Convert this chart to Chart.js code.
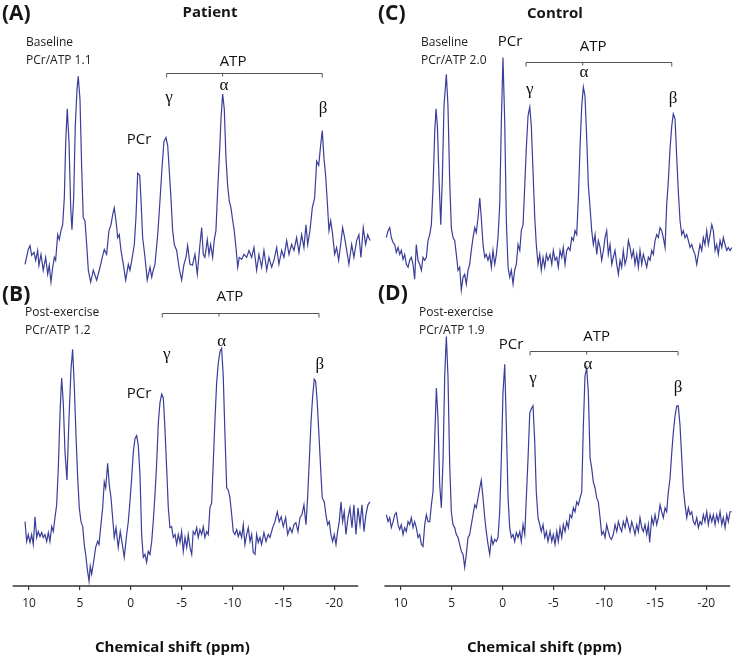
<!DOCTYPE html>
<html lang="en">
<head>
<meta charset="UTF-8">
<title>31P spectra – patient vs control</title>
<script src="https://cdn.jsdelivr.net/npm/chart.js"></script>
<style>
  body { margin: 0; background: #fff; font-family: 'Open Sans', sans-serif; }
  .figure { position: relative; width: 733px; height: 660px; overflow: hidden; }
  .box { position: absolute; top: 0; height: 660px; }
  #leftBox { left: 0; width: 373px; }
  #rightBox { left: 378px; width: 355px; }
  .txt { position: absolute; white-space: nowrap; color: #161616; }
  .panel { font-weight: 700; font-size: 21px; line-height: 24px; }
  .group { font-weight: 700; font-size: 15px; line-height: 18px; transform: translateX(-50%); }
  .cond { font-size: 12px; line-height: 18px; color: #222; }
</style>
</head>
<body>
<div class="figure">
  <div class="box" id="leftBox"><canvas id="leftChart"></canvas></div>
  <div class="box" id="rightBox"><canvas id="rightChart"></canvas></div>

  <div class="txt panel" style="left:2px; top:0px;">(A)</div>
  <div class="txt group" style="left:210px; top:2px;">Patient</div>
  <div class="txt cond" style="left:26px; top:33px;">Baseline</div>
  <div class="txt cond" style="left:26px; top:51px;">PCr/ATP 1.1</div>

  <div class="txt panel" style="left:2px; top:281px;">(B)</div>
  <div class="txt cond" style="left:25px; top:303px;">Post-exercise</div>
  <div class="txt cond" style="left:25px; top:321px;">PCr/ATP 1.2</div>

  <div class="txt panel" style="left:378px; top:0px;">(C)</div>
  <div class="txt group" style="left:555px; top:3px;">Control</div>
  <div class="txt cond" style="left:421px; top:33px;">Baseline</div>
  <div class="txt cond" style="left:421px; top:51px;">PCr/ATP 2.0</div>

  <div class="txt panel" style="left:378px; top:280px;">(D)</div>
  <div class="txt cond" style="left:419px; top:303px;">Post-exercise</div>
  <div class="txt cond" style="left:419px; top:321px;">PCr/ATP 1.9</div>
</div>

<script>
// chemical shift axis
const tickValues = [10, 5, 0, -5, -10, -15, -20];
const axisSpan = [11.6, -22.35];
const axisTitle = 'Chemical shift (ppm)';
const axisTitlePpm = -4.1;

// (A) patient, baseline
const shiftA = [10.39,10.07,9.90,9.74,9.51,9.34,9.15,9.02,8.82,8.60,
  8.36,8.16,8.01,7.84,7.67,7.51,7.38,7.18,7.02,6.86,
  6.69,6.53,6.39,6.24,6.07,5.90,5.78,5.61,5.45,5.28,
  5.16,4.99,4.82,4.67,4.50,4.33,4.17,3.94,3.68,3.35,
  3.02,2.80,2.60,2.37,2.14,1.94,1.78,1.62,1.45,1.28,
  1.13,0.96,0.73,0.50,0.24,0.08,-0.15,-0.35,-0.51,-0.68,
  -0.88,-1.00,-1.17,-1.40,-1.62,-1.89,-2.06,-2.21,-2.38,-2.65,
  -2.87,-3.07,-3.26,-3.46,-3.63,-3.79,-3.95,-4.12,-4.28,-4.51,
  -4.74,-5.00,-5.23,-5.43,-5.59,-5.82,-6.06,-6.31,-6.54,-6.80,
  -6.97,-7.13,-7.29,-7.52,-7.69,-7.85,-8.05,-8.21,-8.37,-8.54,
  -8.70,-8.87,-9.03,-9.19,-9.36,-9.52,-9.68,-9.85,-10.02,-10.17,
  -10.34,-10.51,-10.66,-10.90,-11.13,-11.39,-11.62,-11.88,-12.11,-12.37,
  -12.60,-12.86,-13.09,-13.36,-13.58,-13.85,-14.07,-14.34,-14.56,-14.83,
  -15.06,-15.32,-15.55,-15.81,-16.04,-16.30,-16.53,-16.79,-17.02,-17.22,
  -17.39,-17.61,-17.84,-18.07,-18.27,-18.47,-18.66,-18.82,-18.99,-19.15,
  -19.31,-19.48,-19.65,-19.84,-20.04,-20.23,-20.43,-20.63,-20.82,-21.02,
  -21.22,-21.44,-21.71,-21.93,-22.20,-22.42,-22.62,-22.85,-23.08,-23.28,
  -23.51];
const ampA = [3,18,22,12,15,7,17,2,13,-3,
  10,-7,2,-15,0,10,7,33,28,37,
  43,70,127,160,127,60,38,70,143,180,
  193,170,100,50,47,23,-3,-15,-3,-13,
  0,10,18,13,37,43,53,60,47,30,
  33,17,3,-13,3,-3,10,23,50,95,
  93,70,30,10,-13,0,-10,-3,3,33,
  67,100,127,131,123,97,70,37,23,17,
  0,-13,3,10,22,3,2,13,-7,23,
  40,13,10,28,13,23,10,28,37,77,
  110,150,175,160,110,83,67,60,47,37,
  20,0,10,8,13,10,17,10,20,-3,
  13,0,17,-3,10,0,7,20,3,17,
  10,27,13,23,17,30,15,33,20,43,
  23,37,60,70,107,103,123,138,110,93,
  67,37,47,33,13,20,7,23,40,30,
  17,3,23,10,27,33,10,40,23,33,
  27];

// (B) patient, post-exercise
const shiftB = [10.39,10.23,10.07,9.90,9.74,9.58,9.41,9.24,9.09,8.92,
  8.75,8.60,8.43,8.26,8.10,7.94,7.77,7.61,7.45,7.28,
  7.12,6.95,6.79,6.63,6.46,6.27,6.07,5.87,5.71,5.55,
  5.38,5.21,5.06,4.89,4.72,4.57,4.43,4.27,4.10,3.98,
  3.84,3.64,3.45,3.25,3.12,2.93,2.76,2.60,2.46,2.27,
  2.11,1.94,1.78,1.62,1.45,1.23,1.03,0.83,0.64,0.40,
  0.24,0.08,-0.09,-0.25,-0.42,-0.58,-0.74,-0.91,-1.07,-1.23,
  -1.40,-1.56,-1.72,-1.89,-2.06,-2.21,-2.38,-2.55,-2.71,-2.87,
  -3.04,-3.20,-3.36,-3.53,-3.69,-3.85,-4.02,-4.18,-4.35,-4.51,
  -4.67,-4.84,-5.00,-5.16,-5.33,-5.50,-5.65,-5.82,-5.99,-6.14,
  -6.31,-6.48,-6.63,-6.80,-6.97,-7.13,-7.29,-7.46,-7.62,-7.78,
  -7.95,-8.11,-8.28,-8.44,-8.60,-8.77,-8.93,-9.09,-9.26,-9.43,
  -9.58,-9.75,-9.92,-10.07,-10.24,-10.41,-10.57,-10.73,-10.90,-11.06,
  -11.22,-11.39,-11.55,-11.72,-11.88,-12.04,-12.21,-12.37,-12.53,-12.70,
  -12.86,-13.09,-13.29,-13.51,-13.68,-13.95,-14.17,-14.40,-14.59,-14.79,
  -14.99,-15.22,-15.42,-15.65,-15.84,-16.04,-16.23,-16.43,-16.63,-16.82,
  -17.02,-17.22,-17.38,-17.54,-17.71,-17.88,-18.03,-18.17,-18.33,-18.50,
  -18.66,-18.82,-19.02,-19.18,-19.35,-19.51,-19.67,-19.84,-20.00,-20.17,
  -20.33,-20.49,-20.66,-20.82,-20.98,-21.15,-21.35,-21.54,-21.74,-21.93,
  -22.13,-22.33,-22.53,-22.72,-22.92,-23.11,-23.31,-23.51];
const ampB = [18,-2,5,-3,5,-5,23,2,8,3,
  7,2,5,-2,7,-2,13,8,22,35,
  72,128,163,138,88,60,122,172,192,155,
  105,62,32,18,13,-5,-15,-30,-42,-27,
  -35,-22,-8,-2,-5,15,32,58,52,77,
  55,42,22,2,12,-8,8,-5,-18,5,
  18,38,62,88,102,105,95,65,5,-18,
  -15,-23,-12,-15,-2,18,45,78,118,138,
  147,143,112,72,32,12,13,2,5,-5,
  5,-3,8,-12,2,-8,5,-8,-15,8,
  5,12,2,10,5,13,2,8,5,32,
  37,78,122,158,178,190,193,165,105,52,
  50,42,25,8,5,10,3,8,2,15,
  -5,5,12,-2,5,-13,-15,5,-3,2,
  -5,7,-2,5,2,12,18,28,18,23,
  13,22,5,12,7,15,17,8,22,25,
  35,15,42,78,118,145,162,160,138,105,
  72,42,38,25,15,18,5,-2,5,-5,
  8,18,38,18,28,5,22,32,12,35,
  5,32,15,35,8,25,35,38];

// (C) control, baseline
const shiftC = [11.41,11.24,11.08,10.92,10.75,10.59,10.43,10.26,10.10,9.94,
  9.77,9.61,9.45,9.28,9.12,8.96,8.79,8.63,8.47,8.30,
  8.14,7.97,7.81,7.64,7.48,7.32,7.15,6.99,6.83,6.66,
  6.53,6.40,6.24,6.07,5.92,5.75,5.52,5.36,5.19,5.03,
  4.87,4.70,4.54,4.37,4.21,4.05,3.88,3.72,3.56,3.39,
  3.23,3.07,2.90,2.73,2.58,2.41,2.24,2.09,1.92,1.75,
  1.60,1.43,1.26,1.10,0.94,0.77,0.61,0.45,0.28,0.12,
  -0.04,-0.21,-0.37,-0.54,-0.70,-0.86,-1.03,-1.19,-1.35,-1.52,
  -1.69,-1.84,-2.01,-2.18,-2.33,-2.50,-2.67,-2.82,-2.99,-3.16,
  -3.31,-3.48,-3.65,-3.80,-3.97,-4.14,-4.30,-4.46,-4.66,-4.83,
  -4.98,-5.15,-5.32,-5.47,-5.64,-5.81,-5.96,-6.13,-6.30,-6.46,
  -6.62,-6.79,-6.95,-7.11,-7.28,-7.44,-7.61,-7.77,-7.93,-8.09,
  -8.26,-8.42,-8.59,-8.75,-8.91,-9.08,-9.24,-9.40,-9.57,-9.73,
  -9.90,-10.06,-10.22,-10.38,-10.55,-10.72,-10.87,-11.04,-11.21,-11.37,
  -11.53,-11.69,-11.85,-12.02,-12.19,-12.35,-12.51,-12.68,-12.84,-13.00,
  -13.17,-13.33,-13.49,-13.66,-13.82,-13.98,-14.15,-14.31,-14.48,-14.64,
  -14.80,-14.97,-15.13,-15.29,-15.46,-15.62,-15.78,-15.95,-16.11,-16.27,
  -16.44,-16.61,-16.76,-16.93,-17.10,-17.25,-17.42,-17.59,-17.74,-17.91,
  -18.08,-18.24,-18.40,-18.57,-18.73,-18.89,-19.06,-19.22,-19.38,-19.55,
  -19.71,-19.87,-20.04,-20.20,-20.37,-20.54,-20.69,-20.86,-21.02,-21.18,
  -21.35,-21.52,-21.67,-21.84,-22.01,-22.16,-22.33,-22.50];
const ampC = [20,27,30,20,15,13,5,10,3,7,
  -2,3,-7,-10,-3,0,-7,-22,13,-3,
  -7,-13,0,-3,0,17,23,33,70,127,
  150,133,80,33,77,153,185,153,77,30,
  20,17,3,-13,-10,-33,-20,-17,-27,-13,
  -7,7,20,30,25,40,60,40,13,0,
  3,-3,3,-10,7,-7,3,20,53,137,
  202,137,37,-10,-20,-13,-27,-13,-7,13,
  7,27,33,73,110,143,152,133,87,40,
  13,-7,3,-13,0,-10,3,-3,3,-7,
  7,-3,0,-10,7,0,10,-7,7,10,
  7,20,17,27,23,60,113,153,172,163,
  120,73,50,27,13,23,3,17,10,-3,
  7,20,27,3,13,-7,0,7,-7,-17,
  -3,-10,7,-7,0,17,10,0,7,-7,
  3,-10,7,-7,3,-3,-10,0,-3,7,
  3,17,23,20,30,27,20,10,53,77,
  110,133,145,140,100,67,37,23,27,20,
  23,17,10,13,7,3,-7,3,13,7,
  20,13,27,13,23,33,27,7,13,3,
  17,10,20,13,7,10,7,10];

// (D) control, post-exercise
const shiftD = [11.41,11.24,11.08,10.92,10.75,10.59,10.43,10.26,10.10,9.94,
  9.77,9.61,9.45,9.28,9.12,8.96,8.79,8.63,8.47,8.30,
  8.14,7.97,7.81,7.64,7.48,7.32,7.15,6.99,6.83,6.66,
  6.50,6.34,6.17,6.01,5.84,5.68,5.52,5.36,5.19,5.03,
  4.87,4.70,4.54,4.37,4.21,4.05,3.88,3.72,3.56,3.39,
  3.23,3.07,2.90,2.73,2.58,2.41,2.24,2.09,1.92,1.75,
  1.60,1.43,1.26,1.10,0.94,0.77,0.61,0.45,0.28,0.12,
  -0.04,-0.21,-0.37,-0.54,-0.70,-0.86,-1.03,-1.19,-1.35,-1.52,
  -1.69,-1.84,-2.01,-2.18,-2.33,-2.50,-2.67,-2.82,-2.99,-3.16,
  -3.31,-3.48,-3.65,-3.80,-3.97,-4.14,-4.30,-4.46,-4.66,-4.83,
  -4.98,-5.15,-5.32,-5.47,-5.64,-5.81,-5.96,-6.13,-6.30,-6.46,
  -6.62,-6.79,-6.95,-7.11,-7.28,-7.44,-7.61,-7.77,-7.93,-8.09,
  -8.26,-8.42,-8.59,-8.75,-8.91,-9.08,-9.24,-9.40,-9.57,-9.73,
  -9.90,-10.06,-10.22,-10.38,-10.55,-10.68,-10.87,-11.04,-11.21,-11.37,
  -11.53,-11.69,-11.85,-12.02,-12.19,-12.35,-12.51,-12.68,-12.84,-13.00,
  -13.17,-13.33,-13.49,-13.66,-13.82,-13.98,-14.15,-14.31,-14.44,-14.64,
  -14.80,-14.97,-15.13,-15.29,-15.46,-15.62,-15.78,-15.95,-16.11,-16.27,
  -16.44,-16.61,-16.76,-16.93,-17.10,-17.25,-17.42,-17.59,-17.74,-17.91,
  -18.08,-18.24,-18.40,-18.57,-18.73,-18.89,-19.06,-19.22,-19.38,-19.55,
  -19.71,-19.87,-20.04,-20.20,-20.37,-20.54,-20.69,-20.86,-21.02,-21.18,
  -21.35,-21.52,-21.67,-21.84,-22.01,-22.16,-22.33,-22.50];
const ampD = [15,8,12,2,8,15,17,5,0,5,
  -5,2,-2,8,5,12,2,8,2,-8,
  -5,-15,-17,5,15,8,8,25,38,92,
  143,112,45,22,72,155,195,155,65,18,
  5,2,-5,-8,-15,-22,-25,-38,-25,-8,
  -5,5,15,25,22,32,42,50,32,12,
  -2,-15,-25,-8,-15,-10,-12,-8,18,72,
  138,167,105,32,2,-8,-5,-12,-3,-8,
  -2,-12,5,-5,32,72,118,122,125,88,
  38,12,5,-2,5,-8,-2,-12,-2,-12,
  -5,-15,-2,-12,2,-8,5,-2,8,2,
  15,12,22,18,28,25,32,38,105,155,
  163,138,72,62,48,42,32,28,12,-5,
  -2,-8,5,-2,-8,-10,-5,5,-2,8,
  2,-2,8,2,12,5,-2,8,2,-5,
  5,-2,12,2,-2,5,-5,5,-13,12,
  5,15,5,12,25,18,12,22,18,38,
  52,78,98,115,125,125,105,72,42,25,
  12,22,15,18,8,5,12,2,8,5,
  15,8,18,5,15,8,15,5,15,8,
  18,5,12,2,15,8,18,18];

// vertical stacking of the traces (a.u.)
const yMax = 592;
const baseA = 322, baseB = 47, baseC = 332, baseD = 57;

// peak assignments and ATP brackets, in ppm / a.u. above each trace
const marksA = { base: baseA,
  bracket: { from: -3.53, to: -18.82, mid: -9.03, level: 196 },
  labels: [['ATP', -10.05, 208, 'sans'], ['PCr', -0.81, 129, 'sans'],
           ['γ', -3.76, 171, 'greek'], ['α', -9.16, 184, 'greek'], ['β', -18.89, 160, 'greek']] };
const marksB = { base: baseB,
  bracket: { from: -3.10, to: -18.50, mid: -8.67, level: 229 },
  labels: [['ATP', -9.75, 245, 'sans'], ['PCr', -0.81, 147, 'sans'],
           ['γ', -3.53, 187, 'greek'], ['α', -8.93, 200, 'greek'], ['β', -18.59, 177, 'greek']] };
const marksC = { base: baseC,
  bracket: { from: -2.30, to: -16.61, mid: -7.87, level: 197 },
  labels: [['ATP', -8.88, 213, 'sans'], ['PCr', -0.73, 218, 'sans'],
           ['γ', -2.67, 170, 'greek'], ['α', -8.00, 187, 'greek'], ['β', -16.73, 160, 'greek']] };
const marksD = { base: baseD,
  bracket: { from: -2.70, to: -17.23, mid: -8.26, level: 180 },
  labels: [['ATP', -9.24, 195, 'sans'], ['PCr', -0.83, 187, 'sans'],
           ['γ', -2.99, 153, 'greek'], ['α', -8.39, 167, 'greek'], ['β', -17.23, 143, 'greek']] };

const traceColor = '#3b3e98';

function trace(shift, amp, base) {
  return {
    data: shift.map((s, i) => ({ x: s, y: base + amp[i] })),
    borderColor: traceColor,
    borderWidth: 1.2,
    pointRadius: 0,
    tension: 0,
    fill: false
  };
}

const spectrumMarks = {
  id: 'spectrumMarks',
  afterDraw(chart, args, opts) {
    const { ctx, chartArea } = chart;
    const x = chart.scales.x, y = chart.scales.y;
    ctx.save();
    // axis line
    ctx.strokeStyle = '#333';
    ctx.lineWidth = 1.6;
    ctx.beginPath();
    ctx.moveTo(x.getPixelForValue(axisSpan[0]), chartArea.bottom);
    ctx.lineTo(x.getPixelForValue(axisSpan[1]), chartArea.bottom);
    ctx.stroke();
    // axis title
    ctx.fillStyle = '#111';
    ctx.font = 'bold 15px "Open Sans"';
    ctx.textAlign = 'center';
    ctx.textBaseline = 'middle';
    ctx.fillText(axisTitle, x.getPixelForValue(axisTitlePpm), 648);

    opts.panels.forEach(p => {
      const b = p.bracket;
      const by = Math.round(y.getPixelForValue(p.base + b.level)) + 0.5;
      const x0 = x.getPixelForValue(b.from), x1 = x.getPixelForValue(b.to), xm = x.getPixelForValue(b.mid);
      ctx.strokeStyle = '#555';
      ctx.lineWidth = 1;
      ctx.beginPath();
      ctx.moveTo(x0, by + 4); ctx.lineTo(x0, by); ctx.lineTo(x1, by); ctx.lineTo(x1, by + 4);
      ctx.moveTo(xm, by); ctx.lineTo(xm, by + 3);
      ctx.stroke();
      p.labels.forEach(([text, ppm, level, kind]) => {
        ctx.font = kind === 'greek' ? '17px "Liberation Serif"' : '15px "Open Sans"';
        ctx.fillStyle = '#111';
        ctx.fillText(text, x.getPixelForValue(ppm), y.getPixelForValue(p.base + level));
      });
    });
    ctx.restore();
  }
};

function makeChart(id, datasets, xMin, xMax, padLeft, padRight, panels) {
  return new Chart(document.getElementById(id), {
    type: 'line',
    data: { datasets },
    plugins: [spectrumMarks],
    options: {
      responsive: true,
      maintainAspectRatio: false,
      animation: false,
      events: [],
      layout: { padding: { left: padLeft, right: padRight, top: 0, bottom: 43.6 } },
      plugins: { legend: { display: false }, tooltip: { enabled: false }, spectrumMarks: { panels } },
      scales: {
        x: {
          type: 'linear',
          reverse: true,
          min: xMin,
          max: xMax,
          border: { display: false },
          grid: { drawOnChartArea: false, drawTicks: true, tickLength: 4, color: '#333', lineWidth: 1.2 },
          afterBuildTicks: sc => { sc.ticks = tickValues.map(v => ({ value: v })); },
          ticks: { font: { family: 'Open Sans', size: 12 }, color: '#222', padding: 6, maxRotation: 0,
                   callback: v => String(v) }
        },
        y: { display: false, min: 0, max: yMax }
      }
    }
  });
}

makeChart('leftChart', [trace(shiftA, ampA, baseA), trace(shiftB, ampB, baseB)],
  -23.61, 11.67, 12, 2, [marksA, marksB]);
makeChart('rightChart', [trace(shiftC, ampC, baseC), trace(shiftD, ampD, baseD)],
  -22.62, 11.64, 6, 0, [marksC, marksD]);
</script>
</body>
</html>
